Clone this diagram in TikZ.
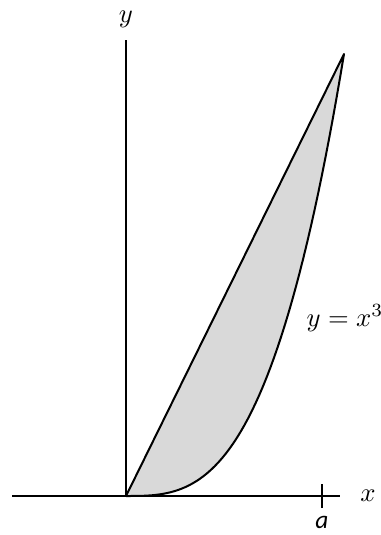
\documentclass[tikz,border=0pt]{standalone}
\usepackage{amsmath}
\usepackage{fontspec}
\newfontfamily\calibfont{Carlito}
\usepackage{tikz}

\begin{document}
\begin{tikzpicture}[x=0.75pt,y=-0.75pt,
  axis/.style={line width=1pt},
  graph/.style={line width=1.5pt,line join=round},
  lbl/.style={scale=2,inner sep=0pt}]
  \useasboundingbox (0,0) rectangle (381,535);
  \coordinate (O) at (126,496);
  \coordinate (T) at (344,54);
  \coordinate (xl) at (12,496);
  \coordinate (xr) at (340,496);
  \coordinate (yt) at (126,40);
  \coordinate (a) at (322,496);
  % region between the line and the cubic
  \fill[black!15] (O) -- (T)
    -- plot[domain=1:0,samples=60] ({126+218*\x},{496-442*\x*\x*\x}) -- cycle;
  \draw[axis] (xl) -- (xr);
  \draw[axis] (O) -- (yt);
  \draw[axis] ([yshift=-9pt]a) -- ([yshift=9pt]a);
  \draw[graph] (O) -- (T)
    -- plot[domain=1:0,samples=60] ({126+218*\x},{496-442*\x*\x*\x});
  \node[lbl] (ylab) at (126,19) {$y$};
  \node[lbl] (xlab) at (368,496) {$x$};
  \node[lbl,scale=0.95] (alab) at (322,522) {\calibfont\itshape a};
  \node[lbl] (curvelab) at (345,318) {$y=x^3$};
\end{tikzpicture}
\end{document}
